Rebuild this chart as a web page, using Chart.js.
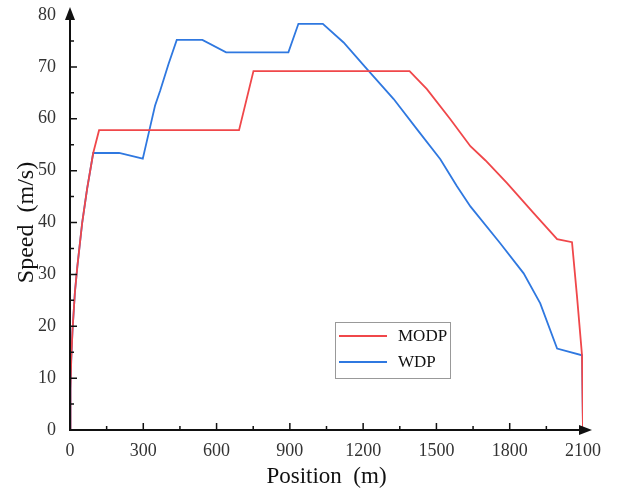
<!DOCTYPE html>
<html>
<head>
<meta charset="utf-8">
<script src="https://cdn.jsdelivr.net/npm/chart.js@4.4.1/dist/chart.umd.min.js"></script>
<style>
  body { margin: 0; background: #fff; }
  #wrap { width: 617px; height: 495px; }
</style>
</head>
<body>
<div id="wrap"><canvas id="myChart" width="617" height="495"></canvas></div>
<script>
// valori
const seriesNames = ["MODP", "WDP"];
const modpPos = [0, 2, 5, 10, 20, 30, 50, 70, 95, 119, 692, 751, 1390, 1461, 1557, 1639, 1700, 1789, 1898, 1994, 2055, 2075, 2096, 2100];
const modpSpeed = [0, 8, 13.5, 19, 26.5, 31.5, 40, 46.5, 53.4, 57.8, 57.8, 69.2, 69.2, 65.7, 59.9, 54.7, 52, 47.6, 41.8, 36.8, 36.2, 26, 14.4, 0];
const wdpPos = [0, 2, 5, 10, 20, 30, 50, 70, 95, 201, 298, 325, 348, 369, 403, 437, 542, 639, 894, 935, 1035, 1120, 1215, 1325, 1420, 1516, 1584, 1639, 1761, 1857, 1925, 1994, 2096, 2100];
const wdpSpeed = [0, 8, 13.5, 19, 26.5, 31.5, 40, 46.5, 53.4, 53.4, 52.3, 57.8, 62.5, 65.4, 70.5, 75.2, 75.2, 72.8, 72.8, 78.3, 78.3, 74.7, 69.6, 63.8, 58, 52.2, 47, 43.1, 36, 30.2, 24.4, 15.7, 14.4, 0];
const xTicks = [0, 300, 600, 900, 1200, 1500, 1800, 2100];
const yTicks = [0, 10, 20, 30, 40, 50, 60, 70, 80];

const colori = ["#f0474a", "#2f78e0"];
const serif = "'Liberation Serif', 'DejaVu Serif', serif";

function toPoints(xs, ys) {
    return xs.map((x, i) => ({ x: x, y: ys[i] }));
}

// assi con frecce e tacche interne
const assiPlugin = {
    id: 'assiPlugin',
    afterDatasetsDraw(chart) {
        const { ctx, scales } = chart;
        const x0 = scales.x.getPixelForValue(0);
        const y0 = scales.y.getPixelForValue(0);
        const xEnd = scales.x.getPixelForValue(2100);
        const yTop = scales.y.getPixelForValue(80);
        ctx.save();
        ctx.strokeStyle = '#111';
        ctx.fillStyle = '#111';
        ctx.lineWidth = 2;
        ctx.beginPath();
        ctx.moveTo(x0, y0 + 1);
        ctx.lineTo(x0, yTop);
        ctx.moveTo(x0 - 1, y0);
        ctx.lineTo(xEnd + 2, y0);
        ctx.stroke();
        // frecce
        ctx.beginPath();
        ctx.moveTo(x0, yTop - 8);
        ctx.lineTo(x0 - 5, yTop + 5);
        ctx.lineTo(x0 + 5, yTop + 5);
        ctx.closePath();
        ctx.fill();
        ctx.beginPath();
        ctx.moveTo(xEnd + 9, y0);
        ctx.lineTo(xEnd - 4, y0 - 5);
        ctx.lineTo(xEnd - 4, y0 + 5);
        ctx.closePath();
        ctx.fill();
        // tacche
        ctx.lineWidth = 1.5;
        ctx.beginPath();
        for (let v = 150; v < 2100; v += 150) {
            const px = scales.x.getPixelForValue(v);
            const len = (v % 300 === 0) ? 7 : 4;
            ctx.moveTo(px, y0);
            ctx.lineTo(px, y0 - len);
        }
        for (let v = 5; v < 80; v += 5) {
            const py = scales.y.getPixelForValue(v);
            const len = (v % 10 === 0) ? 7 : 4;
            ctx.moveTo(x0, py);
            ctx.lineTo(x0 + len, py);
        }
        ctx.stroke();
        ctx.restore();
    }
};

// legenda dentro l'area del grafico
const legendaPlugin = {
    id: 'legendaPlugin',
    afterDraw(chart) {
        const { ctx } = chart;
        const bx = 335, by = 322, bw = 115, bh = 56;
        ctx.save();
        ctx.fillStyle = '#fff';
        ctx.fillRect(bx, by, bw, bh);
        ctx.strokeStyle = '#999';
        ctx.lineWidth = 1;
        ctx.strokeRect(bx + 0.5, by + 0.5, bw, bh);
        ctx.font = '17px ' + serif;
        ctx.textBaseline = 'middle';
        chart.data.datasets.forEach((ds, i) => {
            const yy = by + 14 + i * 26;
            ctx.strokeStyle = ds.borderColor;
            ctx.lineWidth = 1.8;
            ctx.beginPath();
            ctx.moveTo(bx + 4, yy);
            ctx.lineTo(bx + 52, yy);
            ctx.stroke();
            ctx.fillStyle = '#111';
            ctx.fillText(ds.label, bx + 63, yy + 1);
        });
        ctx.restore();
    }
};

const data = {
    datasets: [
        { label: seriesNames[0], data: toPoints(modpPos, modpSpeed), borderColor: colori[0], showLine: true },
        { label: seriesNames[1], data: toPoints(wdpPos, wdpSpeed), borderColor: colori[1], showLine: true }
    ]
};

const options = {
    responsive: false,
    animation: false,
    layout: { padding: { top: 15, right: 34, left: 8, bottom: 0 } },
    elements: {
        point: { radius: 0 },
        line: { borderWidth: 1.8, tension: 0 }
    },
    plugins: {
        legend: { display: false },
        tooltip: { enabled: false }
    },
    scales: {
        x: {
            type: 'linear',
            min: 0,
            max: 2100,
            afterBuildTicks(scale) { scale.ticks = xTicks.map(v => ({ value: v })); },
            afterFit(scale) { scale.height = 65; },
            grid: { display: false, drawTicks: false },
            border: { display: false },
            ticks: {
                padding: 10, maxRotation: 0, color: '#333', font: { family: serif, size: 18 },
                callback: v => String(v)
            },
            title: { display: true, text: 'Position  (m)', color: '#111', padding: { top: 4 }, font: { family: serif, size: 23 } }
        },
        y: {
            min: 0,
            max: 80,
            afterBuildTicks(scale) { scale.ticks = yTicks.map(v => ({ value: v })); },
            afterFit(scale) { scale.width = 62; scale.paddingTop = 0; scale.paddingBottom = 0; },
            grid: { display: false, drawTicks: false },
            border: { display: false },
            ticks: {
                padding: 14, color: '#333', font: { family: serif, size: 18 },
                callback: v => String(v)
            },
            title: { display: true, text: 'Speed  (m/s)', color: '#111', padding: { bottom: 0 }, font: { family: serif, size: 24 } }
        }
    }
};

const grafico = new Chart(document.getElementById('myChart'), {
    type: 'scatter',
    data: data,
    options: options,
    plugins: [assiPlugin, legendaPlugin]
});
</script>
</body>
</html>
